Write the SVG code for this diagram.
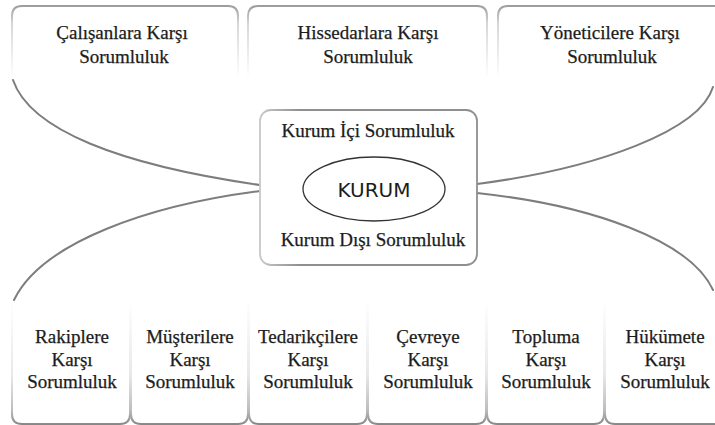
<svg xmlns="http://www.w3.org/2000/svg" width="715" height="425" viewBox="0 0 715 425">
<style>
.t{font-family:"Liberation Serif","Times New Roman",serif;font-size:19px;fill:#1c1c1c;stroke:#1c1c1c;stroke-width:0.25;text-anchor:middle}
.k{font-family:"DejaVu Sans","Verdana",sans-serif;font-size:20px;fill:#1c1c1c;text-anchor:middle}
.top{fill:none;stroke:url(#gTop);stroke-width:2}
.bot{fill:none;stroke:url(#gBot);stroke-width:2}
.con{fill:none;stroke:#7d7d7d;stroke-width:2;stroke-linecap:round}
</style>
<defs>
<linearGradient id="gTop" gradientUnits="userSpaceOnUse" x1="0" y1="5" x2="0" y2="78">
<stop offset="0" stop-color="#9a9a9a"/>
<stop offset="0.25" stop-color="#d6d6d6"/>
<stop offset="1" stop-color="#ffffff"/>
</linearGradient>
<linearGradient id="gBot" gradientUnits="userSpaceOnUse" x1="0" y1="300" x2="0" y2="425">
<stop offset="0" stop-color="#ffffff"/>
<stop offset="0.6" stop-color="#e8e8e8"/>
<stop offset="0.88" stop-color="#bdbdbd"/>
<stop offset="1" stop-color="#858585"/>
</linearGradient>
<linearGradient id="gBox" gradientUnits="userSpaceOnUse" x1="260" y1="0" x2="300" y2="0">
<stop offset="0" stop-color="#c8c8c8"/>
<stop offset="1" stop-color="#8f8f8f"/>
</linearGradient>
</defs>
<rect width="715" height="425" fill="#ffffff"/>

<g id="connectors">
<path class="con" d="M13,80 C30,130 120,165 260,185"/>
<path class="con" d="M260,191 C150,205 42,242 14,300"/>
<path class="con" d="M713,87 C700,130 600,168 477,184"/>
<path class="con" d="M477,193 C590,205 690,240 713,290"/>
</g>

<g id="calisanlar">
<path class="top" d="M12,78 L12,16 Q12,6 22,6 L228,6 Q238,6 238,16 L238,78"/>
<text class="t" x="122" y="39">Çalışanlara Karşı</text>
<text class="t" x="124" y="63">Sorumluluk</text>
</g>
<g id="hissedarlar">
<path class="top" d="M248,78 L248,16 Q248,6 258,6 L477,6 Q487,6 487,16 L487,78"/>
<text class="t" x="368" y="39">Hissedarlara Karşı</text>
<text class="t" x="368" y="63">Sorumluluk</text>
</g>
<g id="yoneticiler">
<path class="top" d="M498,78 L498,16 Q498,6 508,6 L725,6"/>
<text class="t" x="610" y="39">Yöneticilere Karşı</text>
<text class="t" x="612" y="63">Sorumluluk</text>
</g>

<g id="kurum">
<rect x="260" y="110" width="217" height="155" rx="11" fill="#ffffff" stroke="url(#gBox)" stroke-width="1.8"/>
<text class="t" x="368" y="137">Kurum İçi Sorumluluk</text>
<ellipse cx="374" cy="189" rx="71" ry="32" fill="#ffffff" stroke="#333333" stroke-width="1.3"/>
<text class="k" x="374" y="197">KURUM</text>
<text class="t" x="373" y="246">Kurum Dışı Sorumluluk</text>
</g>

<g id="rakipler">
<path class="bot" d="M12,300 L12,414 Q12,424 22,424 L120,424 Q130,424 130,414 L130,300"/>
<text class="t" x="72" y="343">Rakiplere</text>
<text class="t" x="72" y="366">Karşı</text>
<text class="t" x="72" y="388">Sorumluluk</text>
</g>
<g id="musteriler">
<path class="bot" d="M131,300 L131,414 Q131,424 141,424 L238,424 Q248,424 248,414 L248,300"/>
<text class="t" x="190" y="343">Müşterilere</text>
<text class="t" x="190" y="366">Karşı</text>
<text class="t" x="190" y="388">Sorumluluk</text>
</g>
<g id="tedarikciler">
<path class="bot" d="M249,300 L249,414 Q249,424 259,424 L357,424 Q367,424 367,414 L367,300"/>
<text class="t" x="308" y="343">Tedarikçilere</text>
<text class="t" x="308" y="366">Karşı</text>
<text class="t" x="308" y="388">Sorumluluk</text>
</g>
<g id="cevre">
<path class="bot" d="M368,300 L368,414 Q368,424 378,424 L476,424 Q486,424 486,414 L486,300"/>
<text class="t" x="428" y="343">Çevreye</text>
<text class="t" x="428" y="366">Karşı</text>
<text class="t" x="428" y="388">Sorumluluk</text>
</g>
<g id="toplum">
<path class="bot" d="M487,300 L487,414 Q487,424 497,424 L594,424 Q604,424 604,414 L604,300"/>
<text class="t" x="546" y="343">Topluma</text>
<text class="t" x="546" y="366">Karşı</text>
<text class="t" x="546" y="388">Sorumluluk</text>
</g>
<g id="hukumet">
<path class="bot" d="M605,300 L605,414 Q605,424 615,424 L725,424"/>
<text class="t" x="665" y="343">Hükümete</text>
<text class="t" x="665" y="366">Karşı</text>
<text class="t" x="665" y="388">Sorumluluk</text>
</g>
</svg>
